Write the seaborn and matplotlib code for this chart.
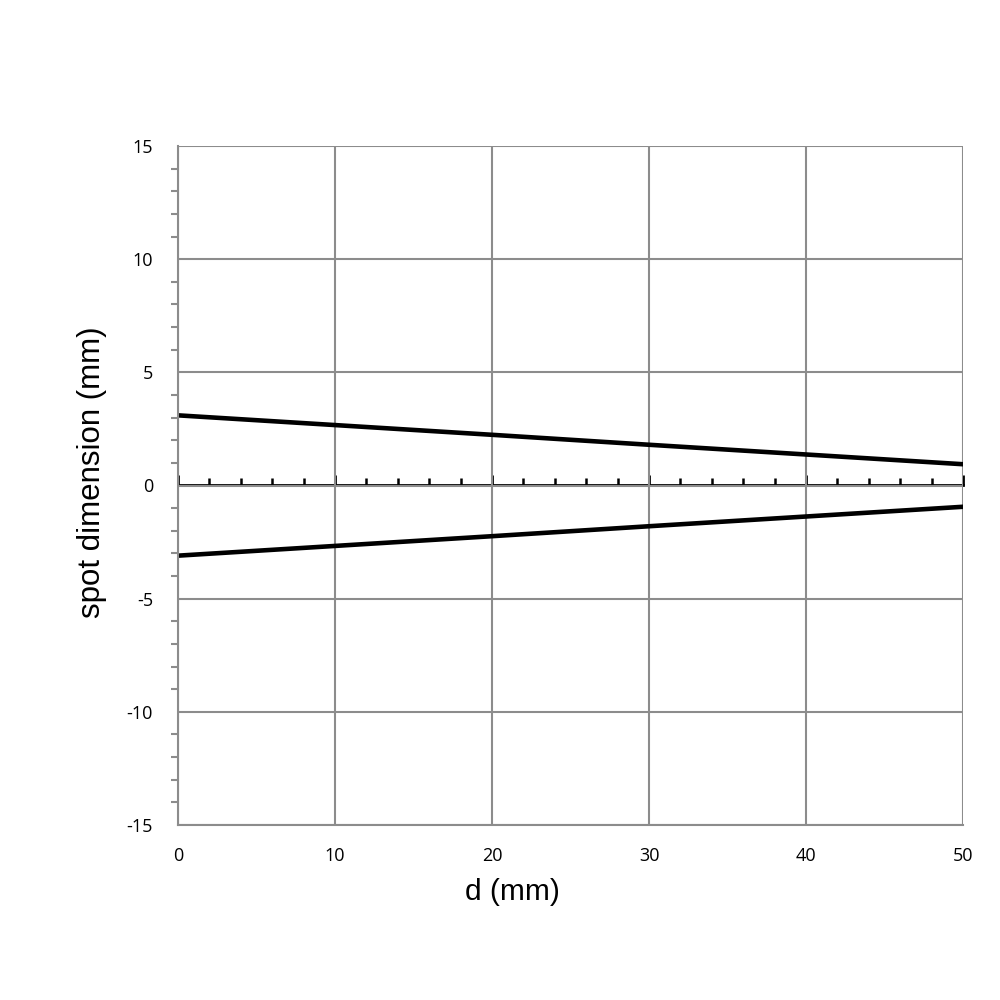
import matplotlib
matplotlib.use("Agg")
import matplotlib.pyplot as plt
from matplotlib.ticker import MultipleLocator
import seaborn as sns
import pandas as pd

# data
d_mm = [0, 10, 20, 30, 40, 50]
upper_edge = [3.1, 2.67, 2.24, 1.8, 1.37, 0.94]
lower_edge = [-3.1, -2.67, -2.24, -1.8, -1.37, -0.94]

df = pd.DataFrame({"d": d_mm, "upper": upper_edge, "lower": lower_edge})

sns.set_style("white")
plt.rcParams["font.family"] = ["Open Sans", "DejaVu Sans"]
plt.rcParams["axes.unicode_minus"] = False

fig = plt.figure(figsize=(10, 10), dpi=100)
ax = fig.add_axes([0.178, 0.175, 0.785, 0.679])

grey = "#8c8c8c"
sns.lineplot(data=df, x="d", y="upper", ax=ax, color="black", linewidth=3.3)
sns.lineplot(data=df, x="d", y="lower", ax=ax, color="black", linewidth=3.3)

ax.set_xlim(0, 50)
ax.set_ylim(-15, 15)
ax.xaxis.set_major_locator(MultipleLocator(10))
ax.yaxis.set_major_locator(MultipleLocator(5))
ax.yaxis.set_minor_locator(MultipleLocator(1))
ax.grid(True, which="major", color=grey, linewidth=1.5)
ax.set_axisbelow(True)

for side in ["top", "right"]:
    ax.spines[side].set_visible(False)
for side in ["left", "bottom"]:
    ax.spines[side].set_color(grey)
    ax.spines[side].set_linewidth(1.5)

ax.tick_params(axis="x", which="both", length=0, pad=16, labelsize=13, labelcolor="black")
ax.tick_params(axis="y", which="major", length=0, pad=18, labelsize=13, labelcolor="black")
ax.tick_params(axis="y", which="minor", left=True, length=5, width=1.5, color=grey, direction="out")

# black zero axis with upward ticks
zero_ax = ax.secondary_xaxis(0.5)
for s in zero_ax.spines.values():
    s.set_color("black")
    s.set_linewidth(2)
zero_ax.xaxis.set_major_locator(MultipleLocator(10))
zero_ax.xaxis.set_minor_locator(MultipleLocator(2))
zero_ax.tick_params(which="major", direction="out", length=7, width=2, color="black",
                    labeltop=False, labelbottom=False)
zero_ax.tick_params(which="minor", direction="out", length=5, width=1.8, color="black")

ax.set_xlabel("d (mm)", fontsize=21.5, family=["Liberation Sans"], color="black")
ax.set_ylabel("spot dimension (mm)", fontsize=22.5, family=["Liberation Sans"], color="black")
ax.xaxis.set_label_coords((512 - 178) / 785, (825 - 878) / 679)
ax.yaxis.set_label_coords((107 - 178) / 785, (825 - 472) / 679)

fig.savefig("out.png", dpi=100, facecolor="white")
